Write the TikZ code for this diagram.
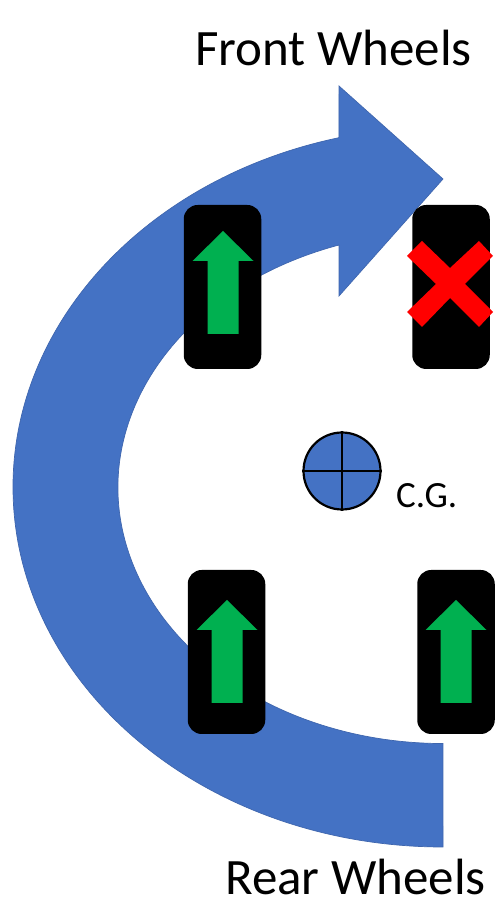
\documentclass[tikz,border=0pt]{standalone}
\usepackage{fontspec}
\setmainfont{Carlito}
\definecolor{bluefill}{HTML}{4472C4}
\definecolor{blueedge}{HTML}{3F66AE}
\definecolor{greenfill}{HTML}{00B050}
\tikzset{
  wheel/.style={draw=none,fill=black,rounded corners=14pt,minimum width=77.5pt,minimum height=164pt,inner sep=0pt},
  greenarrow/.style={fill=greenfill,draw=none},
  bigarrow/.style={fill=bluefill,draw=blueedge,line width=0.7pt,line join=miter},
  crossmark/.style={fill=red,draw=none},
  cgdisc/.style={circle,draw=black,fill=bluefill,line width=2.2pt,minimum size=77pt,inner sep=0pt},
  cgline/.style={draw=black,line width=2pt},
  title/.style={font=\fontsize{51}{54}\selectfont,anchor=base west,inner sep=0pt,text=black},
  small/.style={font=\fontsize{37}{40}\selectfont,anchor=base west,inner sep=0pt,text=black}
}
\newcommand{\upgreen}[1]{%
  \fill[greenarrow,shift={(#1)}] (0,0) -- (30.5,-30) -- (15.5,-30) -- (15.5,-103) -- (-15.5,-103) -- (-15.5,-30) -- (-30.5,-30) -- cycle;}
\begin{document}
\begin{tikzpicture}[x=1pt,y=1pt]
\useasboundingbox (0,0) rectangle (496,908);
\fill[white] (0,0) rectangle (496,908);
% big curved arrow
\draw[bigarrow] (443,61) arc[start angle=270,end angle=104,x radius=430,y radius=360]
  -- (339,822) -- (443,729) -- (339,612) -- (339,663)
  arc[start angle=108.66,end angle=270,x radius=325,y radius=256] -- cycle;
% wheels
\node[wheel] (fl) at (222.5,621) {};
\node[wheel] (fr) at (451,621) {};
\node[wheel] (rl) at (226.5,256) {};
\node[wheel] (rr) at (456,256) {};
% green arrows
\upgreen{223,677}
\upgreen{227,308}
\upgreen{456,308}
% red cross
\fill[crossmark,yshift=908pt,yscale=-1] (407,256) -- (422,241) -- (450,268) -- (479,241) -- (493,256) -- (465,284) -- (493,312) -- (479,327) -- (450,298) -- (422,327) -- (407,312) -- (436,284) -- cycle;
% centre of gravity
\node[cgdisc] (cg) at (342,437) {};
\draw[cgline] (cg.north) -- (cg.south);
\draw[cgline] (cg.west) -- (cg.east);
% labels
\node[small] (cglabel) at (396,400) {C.G.};
\node[title] (front) at (195,842) {Front Wheels};
\node[title] (rear) at (225,13) {Rear Wheels};
\end{tikzpicture}
\end{document}
